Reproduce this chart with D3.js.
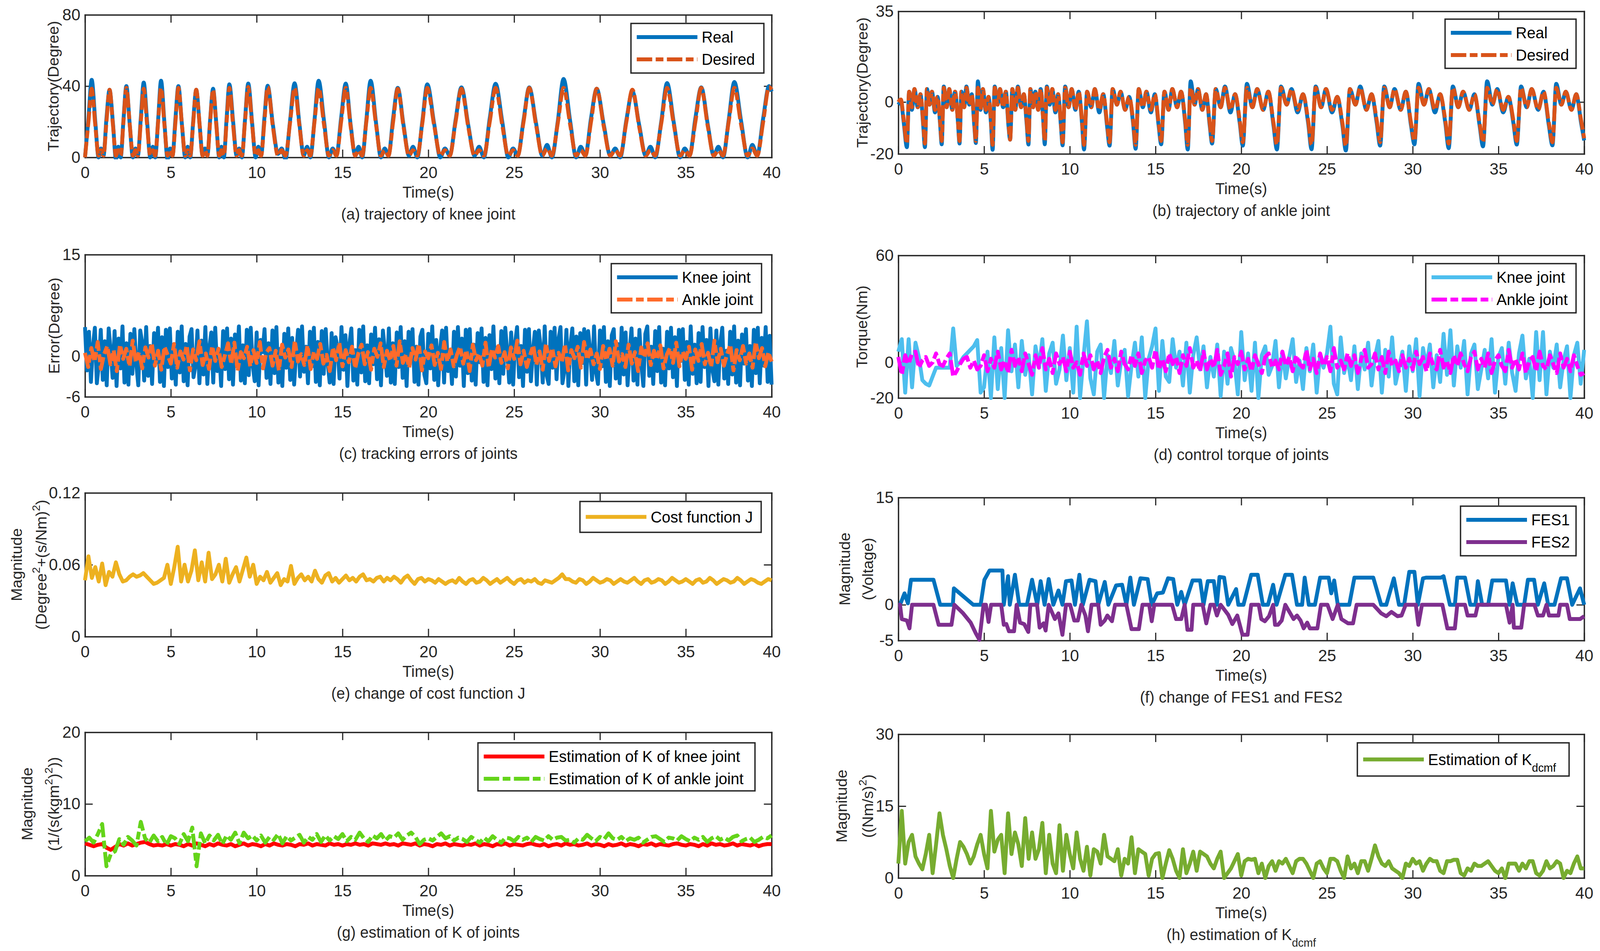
<!DOCTYPE html>
<html>
<head>
<meta charset="utf-8">
<script src="https://cdn.jsdelivr.net/npm/d3@7"></script>
<style>
  html, body { margin: 0; height: 100%; overflow: hidden; background: #fff; }
  #fig { display: block; width: 100vw; height: 100vh; }
  svg text { font-family: "Liberation Sans", Arial, Helvetica, sans-serif; fill: #262626; }
</style>
</head>
<body>
<svg id="fig" viewBox="0 0 4141 2435" preserveAspectRatio="none"></svg>
<script>
// ---------- tick labels ----------
const timeTicks = [0, 5, 10, 15, 20, 25, 30, 35, 40];
const ticksA = [0, 40, 80];
const ticksB = [-20, 0, 35];
const ticksC = [-6, 0, 15];
const ticksD = [-20, 0, 60];
const ticksE = [0, 0.06, 0.12];
const ticksF = [-5, 0, 15];
const ticksG = [0, 10, 20];
const ticksH = [0, 15, 30];

// ---------- (a) knee trajectory ----------
const kneeT = [0, 0.2,
  0.39, 0.60, 0.79, 0.93, 1.08, 1.25,
  1.43, 1.63, 1.80, 1.94, 2.08, 2.24,
  2.41, 2.61, 2.79, 2.94, 3.08, 3.25,
  3.42, 3.62, 3.80, 3.95, 4.09, 4.26,
  4.43, 4.63, 4.81, 4.96, 5.10, 5.27,
  5.44, 5.65, 5.84, 5.98, 6.13, 6.30,
  6.48, 6.68, 6.85, 6.99, 7.13, 7.29,
  7.46, 7.65, 7.82, 7.95, 8.09, 8.25,
  8.41, 8.63, 8.83, 8.98, 9.14, 9.32,
  9.51, 9.74, 9.94, 10.10, 10.26, 10.45,
  10.64, 10.95, 11.24, 11.46, 11.68, 11.94,
  12.21, 12.49, 12.74, 12.94, 13.13, 13.37,
  13.61, 13.93, 14.21, 14.43, 14.65, 14.92,
  15.19, 15.48, 15.74, 15.94, 16.15, 16.39,
  16.64, 16.96, 17.24, 17.46, 17.68, 17.95,
  18.22, 18.56, 18.87, 19.11, 19.36, 19.65,
  19.94, 20.34, 20.70, 20.97, 21.25, 21.59,
  21.93, 22.33, 22.69, 22.96, 23.24, 23.58,
  23.92, 24.31, 24.66, 24.94, 25.21, 25.55,
  25.88, 26.28, 26.64, 26.92, 27.20, 27.54,
  27.88, 28.27, 28.61, 28.88, 29.15, 29.48,
  29.81, 30.23, 30.60, 30.89, 31.18, 31.54,
  31.89, 32.29, 32.66, 32.94, 33.22, 33.57,
  33.91, 34.31, 34.67, 34.94, 35.22, 35.56,
  35.90, 36.29, 36.63, 36.90, 37.17, 37.50,
  37.83, 38.23, 38.60, 38.88, 39.16, 39.51,
  39.85, 40];
const kneeReal = [0, 22,
  43.5, 20, 0, 5, 1, 22,
  38, 19, -1, 6, 0, 21,
  40, 18, 0, 5, 1, 22,
  42, 20, 0, 6, 0, 21,
  43, 19, -1, 5, 1, 22,
  40, 18, 0, 6, 0, 20,
  38, 18, 1, 5, 1, 21,
  38.5, 19, 0, 6, 0, 22,
  41, 20, 1, 5, 0, 21,
  41.4, 19, 0, 6, 1, 22,
  40.2, 18, 2, 5, -1, 20,
  41.6, 19, 1, 6, 0, 21,
  43, 20, 0, 5, 1, 22,
  41.4, 18, 1, 6, 0, 21,
  43, 19, 0, 5, 1, 22,
  39, 18, 1, 6, 0, 20,
  41, 19, 0, 5, 1, 21,
  39.3, 18, 1, 6, 0, 22,
  41.3, 20, 0, 5, 1, 21,
  39.3, 19, 1, 7, 0, 20,
  44, 20, 0, 6, 1, 22,
  38.5, 18, 1, 5, 0, 21,
  37, 18, 1, 6, 0, 20,
  41.7, 19, 0, 5, 1, 22,
  39.3, 18, 1, 6, 0, 21,
  42.3, 20, 0, 7, 1, 22,
  40, 37];
const kneeDesired = [0, 20,
  38.5, 18, 1, 4, 1, 20,
  38, 18, 1, 4, 1, 20,
  39, 18, 1, 4, 1, 20,
  38.5, 18, 1, 4, 1, 20,
  39, 18, 1, 4, 1, 20,
  39, 18, 1, 4, 1, 19,
  38, 18, 1, 4, 1, 20,
  38, 18, 1, 4, 1, 20,
  39, 18, 1, 4, 1, 20,
  39.5, 18, 1, 4, 1, 20,
  39.5, 17, 1, 4, 1, 19,
  39, 18, 1, 4, 1, 20,
  39, 18, 1, 4, 1, 20,
  39, 17, 1, 4, 1, 20,
  39, 18, 1, 4, 1, 20,
  38.5, 17, 1, 4, 1, 19,
  39, 18, 1, 4, 1, 20,
  38.5, 17, 1, 4, 1, 20,
  39, 18, 1, 4, 1, 20,
  39, 18, 1, 5, 1, 19,
  39, 18, 1, 4, 1, 20,
  38.5, 17, 1, 4, 1, 20,
  38, 17, 1, 4, 1, 19,
  39, 18, 1, 4, 1, 20,
  39, 17, 1, 4, 1, 20,
  39, 18, 1, 5, 1, 20,
  39.5, 38];

// ---------- (b) ankle trajectory ----------
const ankleT = [0, 0.15, 0.3,
  0.5, 0.63, 0.79, 0.94, 1.13, 1.29, 1.45,
  1.55, 1.67, 1.82, 1.96, 2.14, 2.29, 2.43,
  2.53, 2.65, 2.82, 2.97, 3.15, 3.31, 3.47,
  3.57, 3.68, 3.84, 3.97, 4.14, 4.28, 4.43,
  4.52, 4.64, 4.79, 4.93, 5.11, 5.26, 5.40,
  5.5, 5.62, 5.79, 5.93, 6.11, 6.27, 6.42,
  6.52, 6.65, 6.82, 6.97, 7.16, 7.32, 7.48,
  7.59, 7.70, 7.86, 7.99, 8.16, 8.30, 8.45,
  8.54, 8.66, 8.83, 8.98, 9.16, 9.32, 9.48,
  9.58, 9.73, 9.93, 10.11, 10.33, 10.52, 10.71,
  10.83, 11.01, 11.25, 11.46, 11.72, 11.95, 12.17,
  12.32, 12.50, 12.75, 12.96, 13.23, 13.46, 13.69,
  13.84, 14.02, 14.26, 14.47, 14.73, 14.96, 15.18,
  15.33, 15.52, 15.76, 15.98, 16.26, 16.49, 16.73,
  16.88, 17.05, 17.28, 17.48, 17.73, 17.95, 18.16,
  18.3, 18.51, 18.80, 19.05, 19.37, 19.64, 19.91,
  20.09, 20.33, 20.65, 20.93, 21.28, 21.58, 21.88,
  22.08, 22.32, 22.65, 22.93, 23.29, 23.60, 23.90,
  24.1, 24.34, 24.66, 24.94, 25.30, 25.60, 25.90,
  26.1, 26.34, 26.66, 26.94, 27.30, 27.60, 27.90,
  28.1, 28.34, 28.66, 28.94, 29.30, 29.60, 29.90,
  30.1, 30.34, 30.66, 30.94, 31.30, 31.60, 31.90,
  32.1, 32.34, 32.66, 32.94, 33.30, 33.60, 33.90,
  34.1, 34.34, 34.65, 34.93, 35.28, 35.58, 35.87,
  36.07, 36.32, 36.65, 36.94, 37.32, 37.63, 37.94,
  38.15, 38.37, 38.67, 38.93, 39.26, 39.54, 39.82,
  40];
const ankleReal = [-1, 0, -7,
  -17.4, 4, -3, 5, -2, 3, -9,
  -17.4, 5, -1, 4, -4, 2, -8,
  -16.3, 6, -2, 5, -3, 4, -7,
  -16, 4, -2, 6, -1, 3, -9,
  -15.8, 8, -3, 5, -4, 2, -8,
  -18.4, 6, -1, 5, -2, 4, -9,
  -14.5, 5, -3, 6, -2, 3, -8,
  -16.4, 5, -2, 4, -3, 5, -7,
  -16.3, 6, -1, 5, -4, 3, -9,
  -16.7, 6, -2, 5, -3, 4, -8,
  -18.3, 4, -2, 5, -4, 3, -9,
  -16.8, 5, -1, 4, -3, 2, -8,
  -18, 5, -2, 4, -4, 3, -9,
  -16.3, 4, -3, 5, -2, 4, -8,
  -18.3, 8, -1, 5, -3, 3, -9,
  -16, 5, -2, 6, -4, 3, -8,
  -16.8, 7, -2, 5, -3, 4, -9,
  -18.3, 6, -1, 5, -4, 3, -8,
  -18.2, 6, -2, 5, -4, 2, -9,
  -18.7, 5, -1, 6, -3, 3, -8,
  -16.8, 6, -2, 5, -3, 4, -9,
  -16.3, 7, -1, 5, -4, 3, -8,
  -17.8, 6, -2, 4, -3, 3, -9,
  -17.1, 8, -1, 5, -4, 2, -8,
  -16.4, 6, -2, 5, -3, 4, -9,
  -16.7, 7, -1, 4, -3, 3, -8,
  -14.8];
const ankleDesired = [0, 1, -6,
  -16, 4, -2, 5, -2, 3, -8,
  -16, 5, -1, 4, -3, 2, -7,
  -15, 5.5, -2, 5, -3, 4, -7,
  -15, 4, -2, 5.5, -1, 3, -8,
  -15, 5.5, -3, 5, -3, 2, -7,
  -16.5, 5.5, -1, 5, -2, 4, -8,
  -14.5, 5, -3, 5.5, -2, 3, -7,
  -15, 5, -2, 4, -3, 5, -7,
  -15, 5.5, -1, 5, -3, 3, -8,
  -15.5, 5.5, -2, 5, -3, 4, -7,
  -16.5, 4, -2, 5, -3, 3, -8,
  -15.5, 5, -1, 4, -3, 2, -7,
  -16.5, 5, -2, 4, -3, 3, -8,
  -15, 4, -3, 5, -2, 4, -7,
  -16.5, 5.5, -1, 5, -3, 3, -8,
  -15, 5, -2, 5.5, -3, 3, -7,
  -15.5, 5.5, -2, 5, -3, 4, -8,
  -16.5, 5.5, -1, 5, -3, 3, -7,
  -16.5, 5.5, -2, 5, -3, 2, -8,
  -17, 5, -1, 5.5, -3, 3, -7,
  -15.5, 5.5, -2, 5, -3, 4, -8,
  -15, 5.5, -1, 5, -3, 3, -7,
  -16, 5.5, -2, 4, -3, 3, -8,
  -15.5, 5.5, -1, 5, -3, 2, -7,
  -15, 5.5, -2, 5, -3, 4, -8,
  -15.5, 5.5, -1, 4, -3, 3, -7,
  -14];

// ---------- (c) tracking errors (evenly sampled over 0-40 s) ----------
const kneeError = [
  4.3,-2.1,3.6,-3.8,1.4,4.2,-4.0,-1.2,3.9,-3.5,2.2,-4.3,4.1,0.8,-3.2,3.7,-4.4,2.6,-1.8,4.4,
  -3.9,1.9,-4.2,3.3,-2.6,4.0,-1.1,-4.3,3.8,2.0,-3.6,4.3,-2.9,1.5,-4.1,3.4,-0.9,4.2,-3.8,2.8,
  -4.4,3.9,-1.6,4.1,-3.3,0.7,-4.2,3.6,-2.4,4.4,-3.7,1.8,-4.3,2.9,4.0,-3.1,-1.4,3.8,-4.0,2.3,
  -2.7,4.3,-4.1,1.2,3.5,-3.9,4.2,-2.2,0.9,-4.4,3.7,-1.9,4.1,-3.4,2.6,-4.2,3.2,-0.8,4.4,-3.6,
  1.6,-4.0,3.9,-2.8,4.2,-1.3,-3.7,3.5,-4.3,2.4,0.6,4.0,-3.2,1.9,-4.1,3.8,-2.5,4.3,-3.9,1.1,
  -4.4,3.3,-1.7,4.1,-3.5,2.7,-4.2,0.5,3.9,-3.0,4.4,-2.3,1.4,-4.0,3.6,-1.5,4.2,-3.8,2.1,-4.3,
  3.7,-2.6,4.0,-1.0,-3.9,3.4,-4.1,2.8,1.3,-3.3,4.3,-2.0,3.1,-4.4,1.8,4.1,-3.6,0.9,-4.2,3.9,
  -2.4,4.4,-3.7,1.6,-4.0,3.2,-1.2,4.2,-3.4,2.5,-4.3,3.8,0.7,-2.9,4.1,-3.9,1.9,-4.1,3.5,-1.6,
  4.3,-3.2,2.2,-4.4,3.6,-0.6,4.0,-3.8,1.4,-4.2,2.9,3.9,-2.7,-4.0,3.3,-1.8,4.4,-3.5,2.4,-4.3,
  1.1,3.8,-3.9,4.2,-2.2,0.8,-4.1,3.6,-3.0,4.3,-1.4,2.6,-4.4,3.9,-2.5,4.0,-3.6,1.7,-4.2,3.4,
  -0.9,4.1,-3.8,2.7,-4.3,3.1,-1.9,4.4,-3.3,1.3,-4.0,3.7,-2.6,4.2,0.6,-3.9,3.5,-4.2,2.0,4.3,
  -3.1,1.5,-4.4,3.9,-2.3,4.0,-3.7,0.8,3.6,
  -4.2,3.8,1.2,-3.9,4.4,-2.8,-4.1,3.6,-1.7,4.2,-3.4,2.5,4.3,-4.0,-2.1,3.9,-4.4,1.6,4.1,-3.7,
  2.9,-4.3,3.4,-1.0,4.0,-4.2,3.7,0.9,-3.5,4.4,-2.4,-4.1,3.8,-1.5,4.3,-3.8,2.2,-4.4,3.1,4.0,
  -3.3,1.8,-4.0,4.2,-2.7,3.5,-4.3,0.7,4.1,-3.6,2.6,-4.2,3.9,-1.3,-4.4,3.3,4.4,-2.9,1.4,-4.1,
  3.7,-2.2,4.3,-3.9,1.1,-4.3,3.6,-1.8,4.2,-3.1,2.8,-4.4,3.9,-0.7,4.0,-3.5,2.1,-4.2,4.4,-2.6,
  1.7,-4.0,3.4,-3.8,4.3,-1.6,2.4,-4.4,4.1,-2.0,-3.7,3.8,-4.2,1.9,4.2,-3.3,0.8,-4.1,3.6,-2.7,
  4.4,-3.9,2.3,-4.3,3.2,-1.1,4.0,-3.6,1.5,-4.4,3.9,-2.5,4.2,-4.0,2.7,-1.4,4.3,-3.8,3.0,-4.2];
const ankleError = [
  0.5,-1.6,1.2,-0.8,2.1,-1.9,0.3,1.5,-1.2,0.9,-2.2,1.7,-0.4,1.1,-1.5,2.3,-0.9,0.6,-1.8,1.3,
  -0.2,1.9,-1.4,0.8,-2.0,1.4,0.2,-1.1,1.8,-1.7,0.7,-0.5,1.6,-2.1,1.0,-0.6,2.2,-1.3,0.4,-1.9,
  1.5,-0.7,1.1,-1.6,0.1,1.9,-1.2,2.0,-2.2,0.6,-0.3,1.4,-1.5,0.9,-1.0,2.1,-1.8,0.5,1.2,-1.4,
  0.8,-2.1,1.7,-0.2,1.0,-1.6,2.3,-0.8,0.3,-1.3,1.6,-1.9,0.7,-0.4,1.8,-1.1,0.2,-2.2,1.3,-0.6,
  2.0,-1.5,0.9,-0.9,1.4,-1.8,0.4,1.7,-1.2,0.6,-2.0,1.1,-0.1,1.9,-1.6,0.8,-0.7,1.5,-1.4,2.2,
  -1.0,0.3,-1.7,1.2,-0.5,1.8,-2.1,0.7,-0.3,1.6,-1.3,0.5,-1.9,2.1,-0.8,1.0,-1.5,0.2,1.4,-1.1,
  0.9,-2.2,1.7,-0.6,0.4,-1.4,2.0,-1.7,1.1,-0.2,1.5,-1.0,0.6,-1.8,1.3,-0.4,2.3,-1.2,0.8,-1.6,
  0.1,1.6,-1.3,0.7,-2.0,1.9,-0.7,1.2,-1.5,0.5,-0.9,1.8,-2.1,0.9,-0.3,1.4,-1.7,2.1,-0.5,1.0,
  -1.2,0.4,-1.9,1.5,-0.6,1.1,-1.4,2.2,-0.8,0.3,-1.6,1.7,-1.1,0.6,-2.2,1.3,-0.2,1.9,-1.3,0.8,
  -0.5,1.6,-1.8,0.2,1.2,-1.0,2.0,-1.5,0.7,-0.4,1.4,-2.0,1.0,-0.7,1.8,-1.2,0.5,-1.6,2.3,-0.9,
  1.1,-1.4,0.3,1.7,-2.1,0.9,-0.6,1.5,-1.1,0.4,-1.7,2.1,-0.3,1.2,-1.5,0.6,-0.8];

// ---------- (d) control torque (every 0.2 s) ----------
const kneeTorque = [
  6,13,-17,13,-14,11,3,-10,-12,-13,-8,-3,-3,-3,-3,-3,19,-2,0,3,5,7,9,12.5,-17,
  -14,6,-20,14,-15,8,-20,18,-5,10,-14,12,-7,4,-18,9,-3,13,-16,5,11,-12,-4,15,-10,
  8,-17,20,-20,3,23,-9,-18,6,10,-20,4,-6,12,-13,1,7,-19,-2,11,-8,14,-20,2,9,
  19,-16,12,-8,-11,13,-3,6,-13,11,-17,4,14,-4,9,-14,3,-8,10,-19,6,-12,8,1,-18,
  17,-10,5,-16,11,-20,4,9,-7,-2,12,-14,6,-9,3,13,-11,1,-15,8,-5,10,-17,4,-3,
  5,20,-12,-18,14,-6,2,-10,9,-15,5,-4,11,-13,3,12,-17,7,-8,14,-12,-3,6,-16,9,
  -5,13,-19,8,-2,10,-14,4,-11,16,-7,18,-13,9,-3,12,-18,5,10,-15,-4,7,-9,13,-17,
  3,8,-12,11,-6,-16,5,15,-9,2,-20,17,-10,17,-18,6,-3,10,-14,1,9,-20,4,11,-12,
  7];
const ankleTorque = [
  3,-7,4,-1,5,6,-3,1,3,-2,0,5,-1,-2,2,5,-8,-5,-1,2,3,-3,1,-4,-2,
  4,-5,2,-3,6,-4,1,-6,7,-2,3,-5,5,-1,-7,4,-3,8,-4,2,-6,5,-1,3,-5,
  6,-3,0,-7,5,-2,4,-4,1,-6,3,7,-3,2,-5,6,-1,-4,4,-2,5,-6,1,3,-3,
  7,-4,2,-5,5,-1,3,-6,4,-2,8,-3,1,-5,6,-4,2,-3,7,-7,-2,5,-8,3,-1,
  6,-4,2,-5,4,-1,-6,3,5,-3,1,-4,6,-2,3,-5,4,-1,-3,7,-4,2,-6,5,-2,
  3,-5,8,-3,1,-4,5,-2,4,-6,2,7,-3,-1,5,-4,3,-6,6,-2,1,-5,4,-3,2,
  -4,6,-1,3,-5,5,-2,-4,7,-3,1,-6,4,-2,5,-1,-5,3,6,-4,2,-3,5,-6,1,
  4,-2,-5,7,-3,2,-4,5,-6,1,3,-5,6,-2,-4,4,-1,-6,5,-3,2,-5,4,-2,-7,
  -6];

// ---------- (e) cost function J (every 0.2 s) ----------
const costJ = [
  0.047,0.067,0.049,0.058,0.046,0.061,0.043,0.054,0.050,0.062,
  0.052,0.046,0.047,0.050,0.052,0.050,0.051,0.053,0.050,0.047,
  0.044,0.045,0.047,0.049,0.060,0.044,0.058,0.075,0.046,0.060,
  0.046,0.055,0.072,0.047,0.062,0.046,0.070,0.048,0.052,0.060,
  0.046,0.065,0.045,0.052,0.058,0.046,0.056,0.066,0.050,0.060,
  0.044,0.050,0.047,0.054,0.045,0.049,0.053,0.043,0.048,0.046,
  0.059,0.044,0.049,0.052,0.047,0.050,0.046,0.055,0.048,0.045,
  0.051,0.053,0.046,0.049,0.045,0.048,0.051,0.047,0.049,0.046,
  0.050,0.052,0.047,0.048,0.046,0.049,0.050,0.046,0.049,0.047,
  0.050,0.048,0.045,0.049,0.051,0.047,0.044,0.048,0.049,0.046,
  0.048,
  0.047,0.045,0.048,0.046,0.044,0.046,0.047,0.045,0.049,0.046,
  0.044,0.047,0.048,0.045,0.046,0.049,0.047,0.044,0.046,0.048,
  0.045,0.047,0.049,0.046,0.044,0.047,0.048,0.045,0.047,0.046,
  0.048,0.045,0.044,0.047,0.046,0.045,0.047,0.049,0.052,0.048,
  0.048,0.046,0.045,0.048,0.047,0.044,0.046,0.049,0.047,0.045,
  0.046,0.048,0.047,0.044,0.046,0.048,0.046,0.045,0.047,0.049,
  0.046,0.044,0.047,0.048,0.045,0.046,0.048,0.047,0.044,0.046,
  0.049,0.047,0.045,0.046,0.048,0.046,0.044,0.047,0.048,0.045,
  0.046,0.049,0.047,0.044,0.046,0.048,0.047,0.045,0.046,0.049,
  0.047,0.044,0.046,0.048,0.047,0.045,0.044,0.046,0.048,0.047];

// ---------- (f) FES1 / FES2 ----------
const fes1T = [0,0.1,0.36,0.56,0.74,2.05,2.44,3.18,3.24,4.37,
  4.8,5.02,5.32,6.07,6.15,6.4,6.5,6.8,7.05,7.5,
  7.8,8.1,8.3,8.53,8.77,9.04,9.34,9.57,9.78,10.1,
  10.3,10.56,10.76,11.15,11.5,11.66,12.04,12.25,12.7,13.05,
  13.3,13.53,13.74,14.12,14.54,14.78,15.1,15.43,15.73,16.03,
  16.27,16.5,16.7,17.16,17.6,17.8,18.05,18.4,18.58,18.73,
  19.0,19.24,19.7,19.83,20.13,20.58,20.96,21.26,21.56,21.86,
  22.06,22.57,22.96,23.25,23.55,23.7,23.94,24.3,24.6,25.1,
  25.25,25.42,25.63,26.3,26.6,27.7,28.16,28.46,28.9,29.2,
  29.5,29.8,30.1,30.3,30.6,30.8,31.65,31.8,32.17,32.46,
  32.6,33.05,33.36,33.66,33.8,34.05,34.4,34.64,35.44,35.65,
  35.83,36.1,36.5,36.72,37.08,37.3,37.67,37.9,38.27,38.65,
  39.0,39.3,39.76,40];
const fes1V = [0,0,1.6,0.2,3.5,3.5,0,0,2.3,0,
  0,3.5,4.8,4.8,0,4.0,0,4.2,0,0,
  3.5,0,3.3,0,3.6,0,2.0,0,3.3,3.4,
  0,4.2,0,3.5,3.3,0,3.2,0,2.7,2.8,
  0,3.8,0,3.7,3.6,0,1.6,1.7,3.7,3.6,
  0,1.8,0,3.4,3.4,0,3.3,3.3,0,3.9,
  3.8,0,2.2,0,0,4.2,4.2,0,0,2.8,
  0,4.2,4.2,0,0,3.8,0,0,3.8,3.8,
  1.6,3.4,0,0,3.8,3.8,0,0,3.7,0,
  0,4.6,4.6,0,3.7,3.8,3.8,4.0,0,0,
  3.8,3.8,0,0,3.3,0,0,3.4,3.4,0,
  3.0,0,0,3.5,3.5,0,3.0,0,0,3.7,
  3.7,0,2.3,0];
const fes2T = [0,0.1,0.2,0.5,0.65,0.8,2.05,2.35,3.1,3.27,
  3.78,4.22,4.52,4.73,4.97,5.11,5.26,5.41,6.0,6.15,
  6.3,6.45,6.75,6.9,7.1,7.34,7.58,7.7,8.09,8.24,
  8.47,8.59,8.77,9.13,9.34,9.57,9.78,10.02,10.26,10.47,
  10.67,10.91,11.06,11.27,11.66,11.8,12.04,12.19,12.46,12.64,
  13.3,13.6,14.03,14.24,14.63,14.78,14.93,15.97,16.2,16.5,
  16.7,16.86,17.1,17.2,17.75,17.96,18.2,18.4,18.58,18.8,
  19.24,19.48,19.77,20.07,20.37,20.58,21.02,21.17,21.38,21.62,
  21.86,21.97,22.15,22.36,22.57,23.05,23.25,23.46,23.64,23.85,
  24.0,24.44,24.65,25.03,25.33,25.63,25.84,26.23,26.52,26.73,
  27.7,28.16,28.46,28.76,29.11,29.35,29.59,30.18,30.33,30.54,
  31.73,32.02,32.46,32.6,33.05,33.2,33.66,33.8,35.44,35.65,
  35.83,35.9,36.33,36.5,37.1,37.3,37.6,37.8,37.95,38.5,
  38.6,39.0,39.16,39.76,40];
const fes2V = [0,0,-2.0,-2.2,-3.3,0,0,-2.8,-2.8,0,
  -1.2,-2.5,-4.0,-4.9,0,0,-2.4,0,0,-2.8,
  -2.7,-3.7,-3.7,0,-2.5,-2.7,-3.8,0,0,-3.2,
  -2.6,-3.6,0,-2.0,-1.2,-4.2,0,0,-2.2,-2.2,
  0,-1.5,-3.7,0,0,-2.8,-2.2,-1.5,-2.3,0,
  0,-3.4,-3.4,0,0,-2.3,0,0,-2.0,-2.0,
  0,-3.5,-3.5,0,0,-2.6,0,0,-1.5,0,
  -1.4,-2.7,-1.5,-4.2,-4.2,0,0,-2.0,-2.3,-1.6,
  0,-2.8,-2.8,-2.2,0,-2.0,-1.5,-2.2,-3.3,-2.5,
  -3.3,-3.3,0,0,-2.0,0,-2.0,-2.6,-2.6,0,
  0,-1.2,-1.6,-1.0,-1.6,-1.5,0,0,-2.8,0,
  0,-3.3,-3.3,0,0,-1.5,-1.5,0,0,-2.5,
  0,-3.2,-3.2,0,0,-1.5,-1.5,0,-1.5,-1.5,
  0,0,-2.0,-2.0,-1.6];

// ---------- (g) estimation of K (every 0.25 s) ----------
const kKnee = [
  4.5,4.3,4.1,4.3,4.4,3.9,3.6,4.0,4.4,4.2,
  4.5,4.2,4.4,4.6,4.7,4.4,4.2,4.3,4.2,4.4,
  4.2,4.4,4.3,4.1,4.4,4.2,4.5,4.3,4.1,4.4,
  4.2,4.5,4.3,4.2,4.4,4.1,4.3,4.5,4.2,4.4,
  4.3,4.1,4.4,4.2,4.5,4.3,4.2,4.4,4.3,4.1,
  4.4,4.3,4.5,4.2,4.4,4.3,4.2,4.5,4.3,4.4,
  4.2,4.4,4.3,4.5,4.3,4.4,4.2,4.5,4.4,4.3,
  4.5,4.3,4.4,4.2,4.5,4.4,4.3,4.5,4.2,4.4,
  4.3,4.1,4.4,4.3,4.5,4.2,4.4,4.3,4.2,4.4,
  4.3,4.5,4.2,4.4,4.3,4.1,4.4,4.3,4.5,4.2,
  4.4,4.3,4.2,4.4,4.5,4.3,4.2,4.4,4.1,4.3,
  4.4,4.2,4.5,4.3,4.4,4.2,4.3,4.5,4.2,4.4,
  4.3,4.1,4.4,4.2,4.3,4.5,4.2,4.4,4.3,4.1,
  4.4,4.3,4.5,4.2,4.4,4.3,4.2,4.4,4.5,4.3,
  4.2,4.4,4.3,4.1,4.4,4.2,4.5,4.3,4.4,4.2,
  4.3,4.5,4.2,4.4,4.3,4.2,4.4,4.1,4.3,4.4,
  4.4];
const kAnkle = [
  4.8,5.3,4.6,5.8,7.2,1.3,3.0,3.4,5.1,4.3,
  5.4,4.9,4.2,7.5,5.2,4.6,5.6,4.8,5.4,4.3,
  5.5,5.2,4.4,5.8,4.8,6.7,1.3,5.9,4.5,5.6,
  4.9,5.7,4.4,5.6,5.0,6.0,4.5,6.0,5.2,5.6,
  4.9,5.6,4.6,5.4,5.0,5.8,4.5,5.5,4.9,5.3,
  5.7,4.6,5.4,5.0,5.8,4.7,5.6,4.9,5.5,5.1,
  5.8,4.8,5.4,5.0,6.0,5.2,4.7,5.6,5.2,5.8,
  4.9,5.5,5.3,5.9,5.0,5.6,6.0,5.4,4.4,5.0,
  5.2,4.9,5.4,5.9,5.2,5.5,4.9,5.3,5.1,4.7,
  5.4,5.0,4.6,5.3,4.8,5.5,5.0,4.6,5.3,5.2,
  4.8,5.4,5.0,5.3,4.7,5.4,5.1,4.9,5.5,5.0,
  5.3,5.4,4.9,5.0,4.6,5.2,5.0,5.7,5.2,4.8,
  5.4,5.1,5.9,5.2,5.0,5.4,4.8,5.2,5.0,5.3,
  4.6,5.0,5.4,5.5,5.1,4.7,5.3,5.2,4.9,5.5,
  5.1,4.8,5.3,5.0,5.4,4.7,5.2,5.5,5.0,5.3,
  4.9,5.4,5.6,4.8,5.1,5.3,4.7,5.0,5.4,5.2,
  5.6];

// ---------- (h) estimation of K_dcmf (every 0.2 s) ----------
const kDcmf = [
  3,14,3,7.5,9,4.5,3,1.8,5,9,
  1,7,13.5,9,6,2.5,0,4,7.5,6.5,
  5,3,4.5,7,9,5,2,14,5.5,8,
  9,1,13.5,5,9.5,7,2.5,12.5,4,9.5,
  4,6,11.5,1,9,3,1,11,1.5,9,
  5,2,9.5,4,1.5,6.5,0.5,6,5.5,3,
  9,4.5,4,3.5,6,0.5,4,3,8.5,1,
  6,5.5,5,0.5,4,5,5.2,0,3,5.8,
  4,1.5,0,6,1,3,5.5,1.5,5.5,5,
  4.5,3,2,4,5.5,0,1,2,3.5,5,
  0.5,
  3.5,4,3.8,4,1,3,0,2.5,3.5,1.5,
  3.5,3,4,2.5,1,3.5,4,4,3,1.5,
  0,3,3.5,2,1,4,4,3.5,1.5,0,
  4.5,2,3,1,3.5,3.5,1.5,4,6.8,4.5,
  3,2.5,3.5,2,1.5,1,0,3,2.5,4,
  3,3.5,1.5,3,4,3.5,3.5,1.5,1,3.5,
  3.5,3.8,3.8,1,0.5,2,1.5,3,2.5,2.5,
  3,3.5,2.5,1.5,1,2,0,3,3,3,
  1.5,3,2,3.5,3.5,1,0.5,1.5,3.5,2,
  2.5,3.5,3,0,1.5,1,3,4.5,2,2];

// ---------- drawing ----------
const FS_TICK = 42, FS_TEXT = 40;
const DASH = "40,9,20,9";
const svg = d3.select("#fig");

// sample times for evenly sampled records spanning 0-40 s
const even = v => v.map((_, i) => i * 40 / (v.length - 1));

// text with ^{..} superscripts and _{..} subscripts
function rich(sel, str, size) {
  const parts = str.split(/(\^\{[^}]*\}|_\{[^}]*\})/).filter(s => s.length);
  let shift = 0;
  parts.forEach(s => {
    let target = 0, content = s, fs = size;
    if (s.startsWith("^{")) { target = -0.42 * size; content = s.slice(2, -1); fs = 0.72 * size; }
    else if (s.startsWith("_{")) { target = 0.42 * size; content = s.slice(2, -1); fs = 0.72 * size; }
    const ts = sel.append("tspan").attr("font-size", fs).text(content);
    if (target - shift !== 0) ts.attr("dy", target - shift);
    shift = target;
  });
}

const panels = [
  { key: "a", box: [220, 38, 1997, 403], yDomain: [0, 80], yTicks: ticksA,
    yLabel: ["Trajectory(Degree)"], yLabelX: [137], caption: "(a) trajectory of knee joint",
    legend: { x: 1633, y: 60, w: 344, h: 127 },
    series: [
      { t: kneeT, v: kneeReal, color: "#0072BD", name: "Real", smooth: true },
      { t: kneeT, v: kneeDesired, color: "#D95319", name: "Desired", dash: true, smooth: true }] },
  { key: "b", box: [2325, 29, 4100, 394], yDomain: [-20, 35], yTicks: ticksB,
    yLabel: ["Trajectory(Degree)"], yLabelX: [2231], caption: "(b) trajectory of ankle joint",
    legend: { x: 3740, y: 49, w: 339, h: 126 },
    series: [
      { t: ankleT, v: ankleReal, color: "#0072BD", name: "Real", smooth: true },
      { t: ankleT, v: ankleDesired, color: "#D95319", name: "Desired", dash: true, smooth: true }] },
  { key: "c", box: [220, 652, 1997, 1016], yDomain: [-6, 15], yTicks: ticksC,
    yLabel: ["Error(Degree)"], yLabelX: [139], caption: "(c) tracking errors of joints",
    legend: { x: 1582, y: 675, w: 389, h: 126 },
    series: [
      { t: even(kneeError), v: kneeError, color: "#0072BD", name: "Knee joint" },
      { t: even(ankleError), v: ankleError, color: "#FF6B2B", name: "Ankle joint", dash: true }] },
  { key: "d", box: [2325, 654, 4100, 1019], yDomain: [-20, 60], yTicks: ticksD,
    yLabel: ["Torque(Nm)"], yLabelX: [2230], caption: "(d) control torque of joints",
    legend: { x: 3690, y: 675, w: 389, h: 126 },
    series: [
      { t: even(kneeTorque), v: kneeTorque, color: "#4DBEEE", name: "Knee joint" },
      { t: even(ankleTorque), v: ankleTorque, color: "#FF00FF", name: "Ankle joint", dash: true }] },
  { key: "e", box: [220, 1262, 1997, 1630], yDomain: [0, 0.12], yTicks: ticksE,
    yLabel: ["Magnitude", "(Degree^{2}+(s/Nm)^{2})"], yLabelX: [42, 106], caption: "(e) change of cost function J",
    legend: { x: 1501, y: 1284, w: 469, h: 79 },
    series: [
      { t: even(costJ), v: costJ, color: "#EDB120", name: "Cost function J" }] },
  { key: "f", box: [2325, 1274, 4100, 1640], yDomain: [-5, 15], yTicks: ticksF,
    yLabel: ["Magnitude", "(Voltage)"], yLabelX: [2185, 2245], caption: "(f) change of FES1 and FES2",
    legend: { x: 3780, y: 1296, w: 299, h: 127 },
    series: [
      { t: fes1T, v: fes1V, color: "#0072BD", name: "FES1" },
      { t: fes2T, v: fes2V, color: "#7E2F8E", name: "FES2" }] },
  { key: "g", box: [220, 1875, 1997, 2242], yDomain: [0, 20], yTicks: ticksG,
    yLabel: ["Magnitude", "(1/(s(kgm^{2})^{2}))"], yLabelX: [70, 138], caption: "(g) estimation of K of joints",
    legend: { x: 1237, y: 1902, w: 717, h: 123 },
    series: [
      { t: even(kKnee), v: kKnee, color: "#FF0000", name: "Estimation of K of knee joint" },
      { t: even(kAnkle), v: kAnkle, color: "#64D41A", name: "Estimation of K of ankle joint", dash: true }] },
  { key: "h", box: [2325, 1880, 4100, 2248], yDomain: [0, 30], yTicks: ticksH,
    yLabel: ["Magnitude", "((Nm/s)^{2})"], yLabelX: [2177, 2245], caption: "(h) estimation of K_{dcmf}",
    legend: { x: 3513, y: 1902, w: 548, h: 85 },
    series: [
      { t: even(kDcmf), v: kDcmf, color: "#77AC30", name: "Estimation of K_{dcmf}" }] }
];

function drawPanel(p) {
  const [l, t, r, b] = p.box;
  const g = svg.append("g");
  const x = d3.scaleLinear().domain([0, 40]).range([l, r]);
  const y = d3.scaleLinear().domain(p.yDomain).range([b, t]);
  const fmt = d => String(d);

  const clipId = "clip-" + p.key;
  svg.append("clipPath").attr("id", clipId)
    .append("rect").attr("x", l - 5).attr("y", t - 5).attr("width", r - l + 10).attr("height", b - t + 10);

  // box with inward ticks on all four sides
  const axes = [
    [d3.axisBottom(x).tickValues(timeTicks).tickFormat(fmt).tickPadding(23), `translate(0,${b})`],
    [d3.axisTop(x).tickValues(timeTicks).tickFormat(""), `translate(0,${t})`],
    [d3.axisLeft(y).tickValues(p.yTicks).tickFormat(fmt).tickPadding(12), `translate(${l},0)`],
    [d3.axisRight(y).tickValues(p.yTicks).tickFormat(""), `translate(${r},0)`]
  ];
  axes.forEach(([ax, tr]) => {
    const a = g.append("g").attr("transform", tr).call(ax.tickSizeInner(-20).tickSizeOuter(0));
    a.attr("font-size", FS_TICK).attr("color", "#262626");
    a.select(".domain").attr("stroke-width", 3.5).attr("stroke-linecap", "square");
    a.selectAll(".tick line").attr("stroke-width", 3);
  });

  // data
  const layer = g.append("g").attr("clip-path", `url(#${clipId})`);
  p.series.forEach(s => {
    const line = d3.line()
      .x(d => x(d[0])).y(d => y(d[1]))
      .curve(s.smooth ? d3.curveMonotoneX : d3.curveLinear);
    layer.append("path")
      .datum(d3.zip(s.t, s.v))
      .attr("d", line)
      .attr("fill", "none")
      .attr("stroke", s.color)
      .attr("stroke-width", 10)
      .attr("stroke-linejoin", "round")
      .attr("stroke-dasharray", s.dash ? DASH : null);
  });

  // labels
  const cy = (t + b) / 2;
  p.yLabel.forEach((txt, i) => {
    const lab = g.append("text")
      .attr("transform", `translate(${p.yLabelX[i]},${cy}) rotate(-90)`)
      .attr("y", 0.36 * FS_TEXT)
      .attr("text-anchor", "middle")
      .attr("font-size", FS_TEXT);
    rich(lab, txt, FS_TEXT);
  });
  g.append("text").attr("x", (l + r) / 2).attr("y", b + 89 + 0.36 * FS_TEXT)
    .attr("text-anchor", "middle").attr("font-size", FS_TEXT).text("Time(s)");
  const cap = g.append("text").attr("x", (l + r) / 2).attr("y", b + 145 + 0.36 * FS_TEXT)
    .attr("text-anchor", "middle").attr("font-size", FS_TEXT);
  rich(cap, p.caption, FS_TEXT);

  // legend
  const L = p.legend;
  const lg = g.append("g");
  lg.append("rect").attr("x", L.x).attr("y", L.y).attr("width", L.w).attr("height", L.h)
    .attr("fill", "#fff").attr("stroke", "#262626").attr("stroke-width", 3.5);
  const rows = p.series.length === 1 ? [L.y + L.h / 2] : [L.y + 35, L.y + 92];
  p.series.forEach((s, i) => {
    lg.append("line")
      .attr("x1", L.x + 15).attr("x2", L.x + 172)
      .attr("y1", rows[i]).attr("y2", rows[i])
      .attr("stroke", s.color).attr("stroke-width", 10)
      .attr("stroke-dasharray", s.dash ? DASH : null);
    const lt = lg.append("text").attr("x", L.x + 183).attr("y", rows[i] + 0.36 * FS_TEXT)
      .attr("font-size", FS_TEXT).style("fill", "#000");
    rich(lt, s.name, FS_TEXT);
  });
}

panels.forEach(drawPanel);
</script>
</body>
</html>
